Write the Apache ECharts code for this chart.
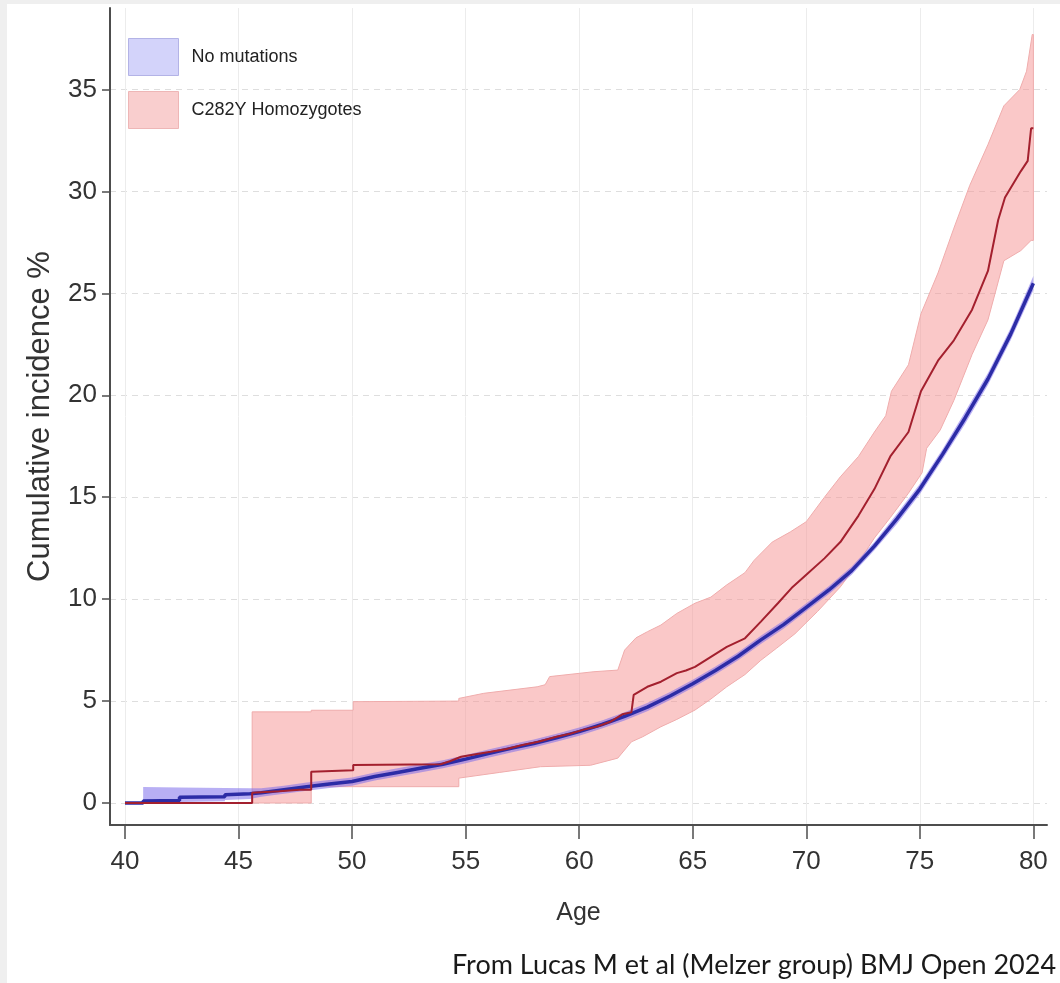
<!DOCTYPE html>
<html>
<head>
<meta charset="utf-8">
<title>Cumulative incidence by age</title>
<script src="https://cdn.jsdelivr.net/npm/echarts@6/dist/echarts.min.js"></script>
<style>
  html, body { margin: 0; padding: 0; background: #efefef; }
  #chart { position: absolute; left: 7px; top: 4px; width: 1053px; height: 979px; background: #fff; }
</style>
</head>
<body>
<div id="chart"></div>
<script>
// axis ticks
const ageTicks = [40, 45, 50, 55, 60, 65, 70, 75, 80]
const pctTicks = [0, 5, 10, 15, 20, 25, 30, 35]

// No mutations: estimate and confidence band
const blueAge = [40, 40.8, 40.8, 42.4, 42.4, 44.4, 44.4, 45.5, 46, 47, 48, 49, 50, 51, 52, 53, 54, 55, 56, 57, 58, 59, 60,
  61, 62, 63, 64, 65, 66, 67, 68, 69, 70, 71, 72, 73, 74, 75, 76, 77, 78, 79, 80]
const blueMid = [0, 0, 0.1, 0.12, 0.28, 0.3, 0.4, 0.45, 0.5, 0.65, 0.8, 0.93, 1.05, 1.3, 1.5, 1.7, 1.9, 2.15, 2.42, 2.68, 2.92, 3.2, 3.5,
  3.85, 4.25, 4.7, 5.25, 5.85, 6.5, 7.2, 8.0, 8.75, 9.6, 10.45, 11.4, 12.6, 13.95, 15.4, 17.1, 18.9, 20.8, 23.0, 25.5]
const blueHi = [0, 0, 0.78, 0.76, 0.76, 0.74, 0.74, 0.72, 0.72, 0.85, 1.0, 1.13, 1.25, 1.5, 1.7, 1.9, 2.1, 2.35, 2.62, 2.88, 3.12, 3.4, 3.7,
  4.05, 4.45, 4.9, 5.45, 6.05, 6.7, 7.4, 8.2, 8.95, 9.8, 10.65, 11.6, 12.8, 14.2, 15.65, 17.35, 19.2, 21.1, 23.3, 25.85]
const blueLo = [0, 0, 0, 0, 0.05, 0.08, 0.15, 0.2, 0.3, 0.45, 0.6, 0.73, 0.85, 1.1, 1.3, 1.5, 1.7, 1.95, 2.22, 2.48, 2.72, 3.0, 3.3,
  3.65, 4.05, 4.5, 5.05, 5.65, 6.3, 7.0, 7.8, 8.55, 9.4, 10.25, 11.2, 12.4, 13.7, 15.15, 16.85, 18.6, 20.5, 22.7, 25.15]

// C282Y homozygotes: estimate (repeated ages are the visible jumps)
const redAge = [40, 45.6, 45.6, 46.8, 47.7, 48.2, 48.2, 50.05, 50.05, 53.9, 54.3, 54.8, 55.5, 56.1, 56.8, 57.5, 58.2, 59.0,
  59.6, 60.2, 60.8, 61.4, 61.9, 62.3, 62.4, 63.0, 63.6, 64.3, 64.7, 65.1, 65.8, 66.5, 67.3, 68.0, 68.75, 69.4, 70.0, 70.8,
  71.5, 72.3, 73.0, 73.7, 74.5, 75.05, 75.8, 76.5, 77.3, 78.0, 78.45, 78.75, 79.45, 79.75, 79.9, 80]
const redMid = [0, 0, 0.5, 0.57, 0.65, 0.65, 1.53, 1.6, 1.86, 1.9, 2.05, 2.27, 2.4, 2.51, 2.65, 2.84, 3.0, 3.25,
  3.4, 3.6, 3.75, 4.0, 4.35, 4.45, 5.3, 5.7, 5.95, 6.37, 6.5, 6.68, 7.17, 7.66, 8.08, 8.9, 9.8, 10.6, 11.2, 12.0,
  12.8, 14.1, 15.4, 17.0, 18.2, 20.2, 21.7, 22.7, 24.2, 26.1, 28.6, 29.7, 31.0, 31.5, 33.1, 33.1]

// C282Y homozygotes: confidence band
const redHiAge = [40, 45.6, 45.6, 48.2, 48.2, 50.05, 50.05, 54.7, 54.7, 55.8, 58.15, 58.5, 58.7, 60.65, 61.7, 62.0, 62.5, 63.0,
  63.6, 64.3, 65.1, 65.8, 66.5, 67.3, 67.7, 68.5, 69.3, 70.0, 70.8, 71.5, 72.3, 73.0, 73.5, 73.75, 74.5, 75.05, 75.8, 76.5,
  77.2, 78.0, 78.7, 79.4, 79.7, 79.95, 80]
const redHi = [0, 0, 4.47, 4.47, 4.55, 4.55, 4.97, 5.0, 5.13, 5.38, 5.7, 5.8, 6.2, 6.44, 6.52, 7.5, 8.1, 8.4,
  8.73, 9.3, 9.8, 10.1, 10.7, 11.3, 11.9, 12.8, 13.3, 13.8, 15.0, 16.0, 17.0, 18.2, 19.0, 20.2, 21.5, 24.0, 26.0, 28.2,
  30.3, 32.3, 34.2, 35.0, 35.9, 37.7, 37.7]
const redLoAge = [40, 48.2, 48.2, 54.7, 54.7, 56.5, 58.3, 60.5, 61.7, 62.3, 62.8, 63.6, 64.3, 65.1, 65.8, 66.5, 67.3, 68.0,
  68.7, 69.5, 70.5, 71.5, 72.3, 73.0, 73.7, 74.5, 75.1, 75.3, 75.9, 76.5, 77.3, 78.0, 78.7, 79.45, 79.9, 80]
const redLo = [0, 0, 0.8, 0.8, 1.22, 1.5, 1.78, 1.85, 2.2, 3.0, 3.25, 3.74, 4.1, 4.56, 5.1, 5.7, 6.3, 7.0,
  7.6, 8.3, 9.4, 10.6, 11.8, 13.0, 14.0, 15.2, 16.2, 17.4, 18.3, 19.75, 22.0, 23.7, 26.6, 27.1, 27.6, 27.6]

const axisFont = 'Liberation Sans'
const axisColor = '#4d4d4d'

function pairs(xs, ys) {
  return xs.map((x, i) => [x, ys[i]])
}

// shaded area between an upper and a lower boundary
function band(xHi, yHi, xLo, yLo, style) {
  return function(params, api) {
    const upper = xHi.map((x, i) => api.coord([x, yHi[i]]))
    const lower = xLo.map((x, i) => api.coord([x, yLo[i]])).reverse()
    return {
      type: 'polygon',
      shape: { points: upper.concat(lower) },
      style: style
    }
  }
}

const chart = echarts.init(document.getElementById('chart'))

chart.setOption({
  animation: false,
  grid: {
    left: 103,
    right: 13,
    top: 4,
    bottom: 158,
    outerBoundsMode: 'none'
  },
  legend: {
    orient: 'vertical',
    left: 121,
    top: 34,
    padding: 0,
    icon: 'rect',
    itemWidth: 50,
    itemHeight: 37,
    itemGap: 15,
    selectedMode: false,
    textStyle: {
      fontFamily: axisFont,
      fontSize: 18,
      color: '#222',
      padding: [0, 0, 0, 8]
    },
    data: [
      { name: 'No mutations', itemStyle: { color: '#d3d3fa', borderColor: '#b3b3e6', borderWidth: 1 }},
      { name: 'C282Y Homozygotes', itemStyle: { color: '#f9cece', borderColor: '#eeb6b6', borderWidth: 1 }}
    ]
  },
  xAxis: {
    type: 'value',
    min: 39.34,
    max: 80.6,
    name: 'Age',
    nameLocation: 'middle',
    nameGap: 76,
    nameTextStyle: { fontFamily: axisFont, fontSize: 25, color: '#333' },
    axisLine: { onZero: false, lineStyle: { color: axisColor, width: 2 }},
    axisTick: { customValues: ageTicks, length: 14, lineStyle: { color: axisColor, width: 1.5 }},
    axisLabel: { customValues: ageTicks, margin: 24, fontFamily: axisFont, fontSize: 26, color: '#333' },
    splitLine: { show: true, lineStyle: { color: '#ececec', width: 1 }}
  },
  yAxis: {
    type: 'value',
    min: -1.08,
    max: 39,
    name: 'Cumulative incidence %',
    nameLocation: 'middle',
    nameRotate: 90,
    nameGap: 54,
    nameTextStyle: { fontFamily: axisFont, fontSize: 31, color: '#333' },
    axisLine: { show: true, onZero: false, lineStyle: { color: axisColor, width: 2 }},
    axisTick: { show: true, customValues: pctTicks, length: 8, lineStyle: { color: axisColor, width: 1.5 }},
    axisLabel: { customValues: pctTicks, margin: 13, fontFamily: axisFont, fontSize: 26, color: '#333' },
    splitLine: { show: true, lineStyle: { color: '#dedede', width: 1, type: [6, 5] }}
  },
  graphic: [{
    type: 'text',
    left: 445,
    top: 948,
    style: {
      text: 'From Lucas M et al (Melzer group) BMJ Open 2024',
      font: '27px Lato',
      fill: '#1a1a1a'
    }
  }],
  series: [
    {
      name: 'C282Y Homozygotes',
      type: 'custom',
      silent: true,
      z: 1,
      data: [[40, 0]],
      renderItem: band(redHiAge, redHi, redLoAge, redLo, {
        fill: 'rgba(245, 150, 150, 0.52)',
        stroke: '#efacac',
        lineWidth: 1
      })
    },
    {
      name: 'No mutations',
      type: 'custom',
      silent: true,
      z: 2,
      data: [[40, 0]],
      renderItem: band(blueAge, blueHi, blueAge, blueLo, {
        fill: 'rgba(125, 110, 235, 0.55)'
      })
    },
    {
      name: 'No mutations',
      type: 'line',
      silent: true,
      z: 3,
      symbol: 'none',
      data: pairs(blueAge, blueMid),
      lineStyle: { color: '#2c2ca6', width: 3.5 },
      itemStyle: { color: '#2c2ca6' }
    },
    {
      name: 'C282Y Homozygotes',
      type: 'line',
      silent: true,
      z: 4,
      symbol: 'none',
      data: pairs(redAge, redMid),
      lineStyle: { color: '#a3202e', width: 2 },
      itemStyle: { color: '#a3202e' }
    }
  ]
})
</script>
</body>
</html>
